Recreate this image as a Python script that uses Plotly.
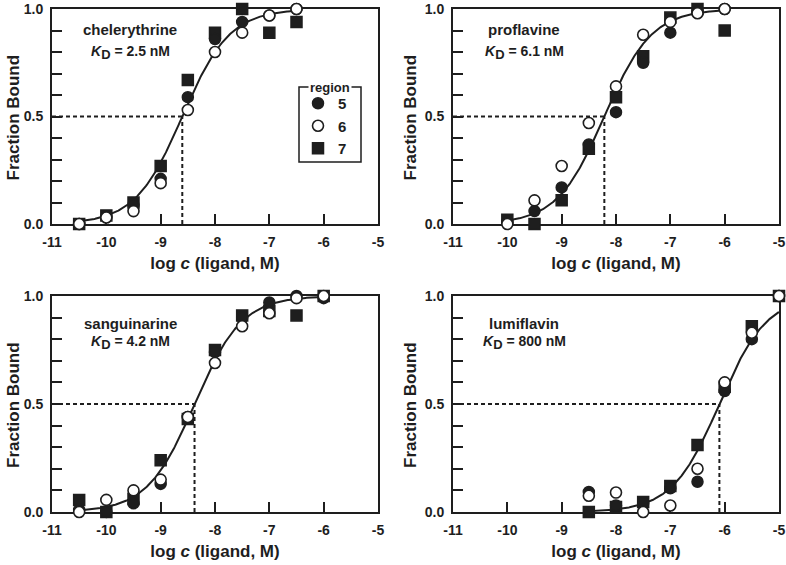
import numpy as np
import plotly.graph_objects as go

# ---------------- data ----------------
compounds = ["chelerythrine", "proflavine", "sanguinarine", "lumiflavin"]
kd_nM = [2.5, 6.1, 4.2, 800]
kd_text = ["2.5 nM", "6.1 nM", "4.2 nM", "800 nM"]
regions = ["5", "6", "7"]

chel_x = [-10.5, -10, -9.5, -9, -8.5, -8, -7.5, -7, -6.5]
chel_r5 = [0.0, 0.035, 0.09, 0.21, 0.59, 0.86, 0.94, 0.97, 1.0]
chel_r6 = [0.0, 0.03, 0.06, 0.19, 0.53, 0.80, 0.89, 0.97, 1.0]
chel_r7 = [0.0, 0.04, 0.10, 0.27, 0.67, 0.89, 1.0, 0.89, 0.94]

prof_x = [-10, -9.5, -9, -8.5, -8, -7.5, -7, -6.5, -6]
prof_r5 = [0.01, 0.06, 0.17, 0.37, 0.52, 0.75, 0.89, 0.99, 1.0]
prof_r6 = [0.0, 0.11, 0.27, 0.47, 0.64, 0.88, 0.94, 0.98, 1.0]
prof_r7 = [0.02, 0.0, 0.11, 0.35, 0.59, 0.78, 0.96, 1.0, 0.90]

sang_x = [-10.5, -10, -9.5, -9, -8.5, -8, -7.5, -7, -6.5, -6]
sang_r5 = [0.01, 0.0, 0.04, 0.13, 0.44, 0.74, 0.90, 0.97, 1.0, 0.99]
sang_r6 = [0.0, 0.056, 0.10, 0.15, 0.44, 0.69, 0.86, 0.92, 0.99, 1.0]
sang_r7 = [0.056, 0.0, 0.06, 0.24, 0.43, 0.75, 0.91, 0.93, 0.91, 1.0]

lumi_x = [-8.5, -8, -7.5, -7, -6.5, -6, -5.5, -5]
lumi_r5 = [0.093, 0.03, 0.04, 0.11, 0.14, 0.56, 0.80, 1.0]
lumi_r6 = [0.075, 0.09, 0.0, 0.03, 0.20, 0.60, 0.83, 1.0]
lumi_r7 = [0.0, 0.023, 0.046, 0.12, 0.31, 0.58, 0.86, 1.0]

xs = [chel_x, prof_x, sang_x, lumi_x]
ys = [[chel_r5, chel_r6, chel_r7], [prof_r5, prof_r6, prof_r7],
      [sang_r5, sang_r6, sang_r7], [lumi_r5, lumi_r6, lumi_r7]]

x_ticks = [-11, -10, -9, -8, -7, -6, -5]
y_ticks = [0.0, 0.5, 1.0]
y_ticktext = ["0.0", "0.5", "1.0"]
x_title = "log <i>c</i> (ligand, M)"
y_title = "Fraction Bound"

# ---------------- style ----------------
W, H = 786, 565
INK = "#1e1e1e"
FONT = "Liberation Sans, Arial, sans-serif"


def px(v):
    return v / W


def py(v):
    return (H - v) / H


# panel boxes in pixels (left, right, top, bottom)
panels = [(52, 378, 9, 224), (453, 779, 9, 224),
          (52, 378, 296, 512), (453, 779, 296, 512)]
label_off = [(78, 21, 43), (71, 21, 43), (78, 27, 47), (71, 27, 47)]
ytitle_gap = [39, 43, 39, 43]

marker_styles = {
    "5": dict(symbol="circle", size=11, color=INK, line=dict(color=INK, width=1.5)),
    "6": dict(symbol="circle", size=11, color="white", line=dict(color=INK, width=1.6)),
    "7": dict(symbol="square", size=11, color=INK, line=dict(color=INK, width=1.5)),
}
rank = {"5": 1, "6": 2, "7": 3}
draw_order = ["7", "5", "6"]

fig = go.Figure()
layout = {}
shapes = []
annotations = []

for i in range(4):
    l, r, t, b = panels[i]
    ax = "" if i == 0 else str(i + 1)
    xa, ya = "x" + ax, "y" + ax
    logkd = np.log10(kd_nM[i] * 1e-9)

    # fitted binding curve from K_D
    xc = np.linspace(min(xs[i]), max(xs[i]), 300)
    yc = 1.0 / (1.0 + 10 ** (logkd - xc))
    fig.add_trace(go.Scatter(x=xc, y=yc, mode="lines", xaxis=xa, yaxis=ya,
                             line=dict(color=INK, width=2), showlegend=False,
                             hoverinfo="skip", cliponaxis=False))
    for reg in draw_order:
        k = regions.index(reg)
        fig.add_trace(go.Scatter(
            x=xs[i], y=ys[i][k], mode="markers", xaxis=xa, yaxis=ya,
            name=reg, legendgroup=reg, legendrank=rank[reg],
            showlegend=(i == 0), marker=marker_styles[reg], cliponaxis=False))

    layout["xaxis" + ax] = dict(
        domain=[px(l), px(r)], anchor=ya, range=[-11, -5], automargin=False,
        tickvals=x_ticks, ticktext=[str(v) for v in x_ticks],
        ticks="inside", ticklen=10, tickwidth=2, tickcolor=INK,
        showline=True, linewidth=2, linecolor=INK, mirror=True,
        showgrid=False, zeroline=False, layer="below traces",
        ticklabelstandoff=4,
        tickfont=dict(family=FONT, size=14, color=INK, weight="bold"),
        title=dict(text=x_title, standoff=8,
                   font=dict(family=FONT, size=17, color=INK, weight="bold")),
    )
    layout["yaxis" + ax] = dict(
        domain=[py(b), py(t)], anchor=xa, range=[0, 1], automargin=False,
        tickvals=y_ticks, ticktext=y_ticktext,
        ticks="inside", ticklen=10, tickwidth=2, tickcolor=INK,
        minor=dict(dtick=0.1, ticks="inside", ticklen=10, tickwidth=2, tickcolor=INK),
        showline=True, linewidth=2, linecolor=INK, mirror=True,
        showgrid=False, zeroline=False, layer="below traces",
        ticklabelstandoff=4,
        tickfont=dict(family=FONT, size=14, color=INK, weight="bold"),
    )

    # y-axis title
    annotations.append(dict(text=y_title, xref="paper", yref="paper",
                            x=px(l - ytitle_gap[i]), y=py((t + b) / 2 + 1),
                            textangle=-90, showarrow=False,
                            xanchor="center", yanchor="middle",
                            font=dict(family=FONT, size=17, color=INK, weight="bold")))

    # dotted guide lines at half-saturation
    dl = dict(color=INK, width=2, dash="4px,3px")
    shapes.append(dict(type="line", xref=xa, yref=ya, x0=-11, x1=logkd,
                       y0=0.5, y1=0.5, line=dl, layer="below"))
    shapes.append(dict(type="line", xref=xa, yref=ya, x0=logkd, x1=logkd,
                       y0=0, y1=0.5, line=dl, layer="below"))

    ox, oy1, oy2 = label_off[i]
    annotations.append(dict(text=compounds[i], xref="paper", yref="paper",
                            x=px(l + ox), y=py(t + oy1), showarrow=False,
                            xanchor="center", yanchor="middle",
                            font=dict(family=FONT, size=15, color=INK, weight="bold")))
    annotations.append(dict(
        text="<i>K</i><sub><span style='font-size:13px'>D</span></sub> = " + kd_text[i],
        xref="paper", yref="paper", x=px(l + ox), y=py(t + oy2), showarrow=False,
        xanchor="center", yanchor="middle",
        font=dict(family=FONT, size=14, color=INK, weight="bold")))

# legend box with "region" title on the border
shapes.append(dict(type="rect", xref="paper", yref="paper",
                   x0=px(299), x1=px(361), y0=py(162), y1=py(87),
                   line=dict(color=INK, width=1.5), fillcolor="white", layer="below"))
annotations.append(dict(text="region", xref="paper", yref="paper",
                        x=px(330), y=py(87), showarrow=False,
                        xanchor="center", yanchor="middle", bgcolor="white",
                        borderpad=1,
                        font=dict(family=FONT, size=13, color=INK, weight="bold")))

fig.update_layout(
    width=W, height=H, margin=dict(l=0, r=0, t=0, b=0, autoexpand=False),
    paper_bgcolor="white", plot_bgcolor="white",
    shapes=shapes, annotations=annotations,
    showlegend=True,
    legend=dict(x=px(298), y=py(87), xanchor="left", yanchor="top",
                bgcolor="rgba(0,0,0,0)", borderwidth=0, tracegroupgap=0,
                font=dict(family=FONT, size=15, color=INK, weight="bold")),
    **layout,
)

fig.write_html("out.html",
               config={"displayModeBar": False},
               post_script="document.body.style.margin='0px';"
                           "document.body.style.overflow='hidden';")
